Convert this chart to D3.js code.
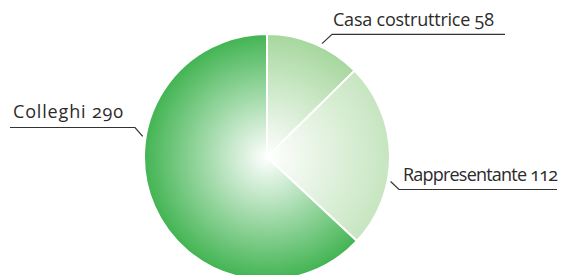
<!DOCTYPE html>
<html>
<head>
<meta charset="utf-8">
<script src="https://cdn.jsdelivr.net/npm/d3@7"></script>
<style>
    body { margin: 0; background: #fff; }
    svg { display: block; }
    .label { font-family: "Open Sans", sans-serif; font-size: 18px; fill: #2b2b2b; font-variant-numeric: oldstyle-nums; }
    .leader { fill: none; stroke: #333; stroke-width: 1.2; }
</style>
</head>
<body>
<script>
(function(){

    //chart data
    var categories = ["Casa costruttrice", "Rappresentante", "Colleghi"];
    var values = [58, 112, 290];
    var edgeColors = ["#a6d79e", "#c6e5c0", "#42b452"];

    var width = 561,
        height = 275,
        cx = 267,
        cy = 157,
        radius = 123;

    var svg = d3.select("body")
        .append("svg")
        .attr("width", width)
        .attr("height", height);

    //one radial gradient per slice, white in the middle (in the slice's own coordinates)
    var defs = svg.append("defs");
    edgeColors.forEach(function(c, i){
        var grad = defs.append("radialGradient")
            .attr("id", "grad" + i)
            .attr("gradientUnits", "userSpaceOnUse")
            .attr("cx", 0).attr("cy", 0).attr("r", radius);
        grad.append("stop").attr("offset", "0%").attr("stop-color", "#ffffff");
        grad.append("stop").attr("offset", "100%").attr("stop-color", c);
    });

    var pie = d3.pie().sort(null).value(function(d){ return d; });
    var arc = d3.arc().innerRadius(0).outerRadius(radius);
    var arcs = pie(values);

    var g = svg.append("g").attr("transform", "translate(" + cx + "," + cy + ")");

    g.selectAll(".slice")
        .data(arcs)
        .enter()
        .append("path")
        .attr("class", "slice")
        .attr("d", arc)
        .attr("fill", function(d, i){ return "url(#grad" + i + ")"; })
        .attr("stroke", "#fff")
        .attr("stroke-width", 2);

    //label layout: where along the slice the leader starts, elbow, underline end, text
    var labelLayout = [
        {angleOffset: 0.57, elbow: [332, 34.3], end: 505, textX: 333, textY: 26, textLen: 161},
        {angleOffset: 0.637, elbow: [399, 189.5], end: 557, textX: 403, textY: 181, textLen: 155},
        {angleOffset: 0.645, elbow: [135, 127.5], end: 10, textX: 13, textY: 118, textLen: 110}
    ];

    arcs.forEach(function(d, i){
        var L = labelLayout[i];
        var a = d.startAngle + (d.endAngle - d.startAngle) * L.angleOffset;
        var r0 = radius + 3;
        var x0 = cx + r0 * Math.sin(a),
            y0 = cy - r0 * Math.cos(a);
        svg.append("path")
            .attr("class", "leader")
            .attr("d", "M" + x0 + "," + y0 + "L" + L.elbow[0] + "," + L.elbow[1] + "L" + L.end + "," + L.elbow[1]);
        svg.append("text")
            .attr("class", "label")
            .attr("x", L.textX)
            .attr("y", L.textY)
            .attr("textLength", L.textLen)
            .attr("lengthAdjust", "spacing")
            .text(categories[i] + " " + values[i]);
    });

})();
</script>
</body>
</html>
